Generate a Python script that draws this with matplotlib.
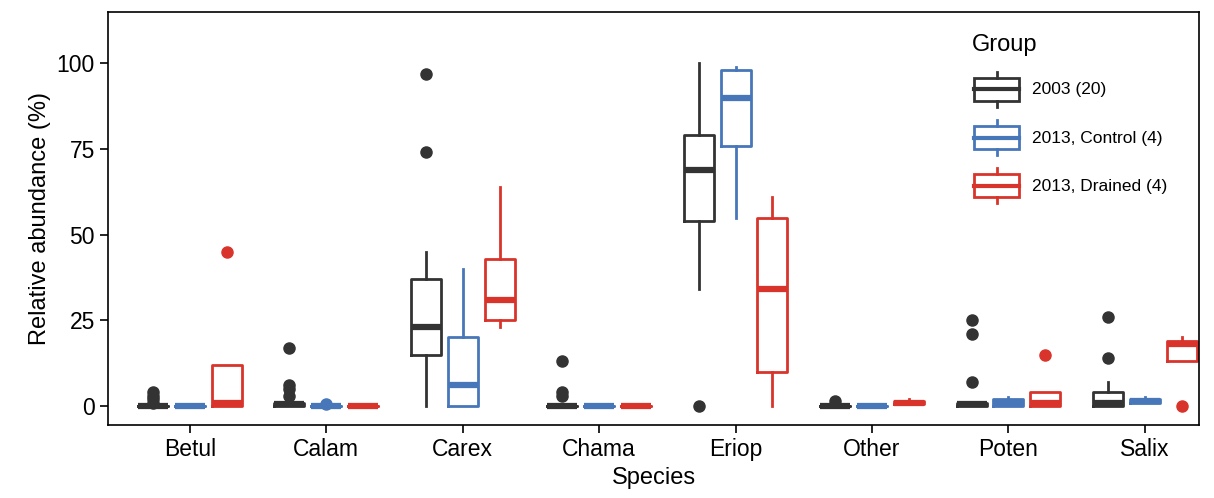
import matplotlib
matplotlib.use("Agg")
import matplotlib.pyplot as plt
from matplotlib.legend_handler import HandlerBase
from matplotlib.lines import Line2D
from matplotlib.patches import Rectangle

plt.rcParams['font.family'] = ['Liberation Sans', 'DejaVu Sans']

species = ["Betul", "Calam", "Carex", "Chama", "Eriop", "Other", "Poten", "Salix"]
groups = ["2003 (20)", "2013, Control (4)", "2013, Drained (4)"]
colors = ["#333333", "#4777b9", "#d9342b"]

# (whislo, q1, med, q3, whishi, fliers)
g2003 = [
    (0, 0, 0, 0, 0, [1, 2, 3, 4]),
    (0, 0, 0.5, 1, 1, [3, 5, 6, 17]),
    (0, 15, 23, 37, 45, [74, 97]),
    (0, 0, 0, 0, 0, [3, 4, 13]),
    (34, 54, 69, 79, 100, [0]),
    (0, 0, 0, 0, 0, [1.5]),
    (0, 0, 0.5, 1, 1, [7, 21, 25]),
    (0, 0, 1, 4, 7, [14, 26]),
]
g2013c = [
    (0, 0, 0, 0, 0, []),
    (0, 0, 0, 0, 0, [0.5]),
    (0, 0, 6, 20, 40, []),
    (0, 0, 0, 0, 0, []),
    (55, 76, 90, 98, 99, []),
    (0, 0, 0, 0, 0.5, []),
    (0, 0, 1, 2, 2.5, []),
    (1, 1, 1.5, 2, 2.5, []),
]
g2013d = [
    (0, 0, 1, 12, 12, [45]),
    (0, 0, 0, 0, 0, []),
    (23, 25, 31, 43, 64, []),
    (0, 0, 0, 0, 0, []),
    (0, 10, 34, 55, 61, []),
    (0.5, 0.5, 1, 1.5, 2, []),
    (0, 0, 1, 4, 4, [15]),
    (13, 13, 18, 19, 20, [0]),
]

fig = plt.figure(figsize=(12.14, 4.98), dpi=100)
ax = fig.add_axes([0.089, 0.147, 0.899, 0.829])

offsets = [-0.27, 0.0, 0.27]
for gi, data in enumerate([g2003, g2013c, g2013d]):
    stats = []
    for lo, q1, med, q3, hi, fl in data:
        stats.append(dict(whislo=lo, q1=q1, med=med, q3=q3, whishi=hi, fliers=fl))
    c = colors[gi]
    pos = [i + offsets[gi] for i in range(len(species))]
    ax.bxp(stats, positions=pos, widths=0.22, showcaps=False,
           boxprops=dict(color=c, lw=2),
           whiskerprops=dict(color=c, lw=2),
           medianprops=dict(color=c, lw=4.5, solid_capstyle='butt'),
           flierprops=dict(marker='o', markerfacecolor=c, markeredgecolor=c, markersize=8))

ax.set_xlim(-0.6, 7.4)
ax.set_ylim(-5.5, 115)
ax.set_yticks([0, 25, 50, 75, 100])
ax.set_xticks(range(len(species)))
ax.set_xticklabels(species)
ax.tick_params(labelsize=16.5, length=6, width=1.2, direction='out')
ax.set_ylabel("Relative abundance (%)", fontsize=17)
ax.set_xlabel("Species", fontsize=17, labelpad=4)
for s in ax.spines.values():
    s.set_linewidth(1.2)


class BoxHandler(HandlerBase):
    def create_artists(self, legend, orig, xd, yd, w, h, fs, trans):
        c = orig.get_color()
        x0, y0 = -xd, -yd
        r = Rectangle((x0 + w * 0.05, y0 + h * 0.12), w * 0.9, h * 0.76, fill=False,
                      ec=c, lw=2, transform=trans)
        m = Line2D([x0 + w * 0.05, x0 + w * 0.95], [y0 + h * 0.5] * 2, color=c, lw=3, transform=trans)
        t = Line2D([x0 + w * 0.5] * 2, [y0 + h * 0.88, y0 + h * 1.08], color=c, lw=2, transform=trans)
        b = Line2D([x0 + w * 0.5] * 2, [y0 + h * 0.12, y0 - h * 0.08], color=c, lw=2, transform=trans)
        return [r, m, t, b]


handles = [Line2D([], [], color=c) for c in colors]
leg = ax.legend(handles, groups, title="Group", loc='upper right', frameon=False,
                handler_map={Line2D: BoxHandler()}, fontsize=12.5, title_fontsize=17,
                handlelength=2.9, handleheight=2.3, labelspacing=1.05, handletextpad=0.6,
                bbox_to_anchor=(0.985, 0.985))
leg._legend_box.align = "left"

fig.savefig("out.png", dpi=100)
